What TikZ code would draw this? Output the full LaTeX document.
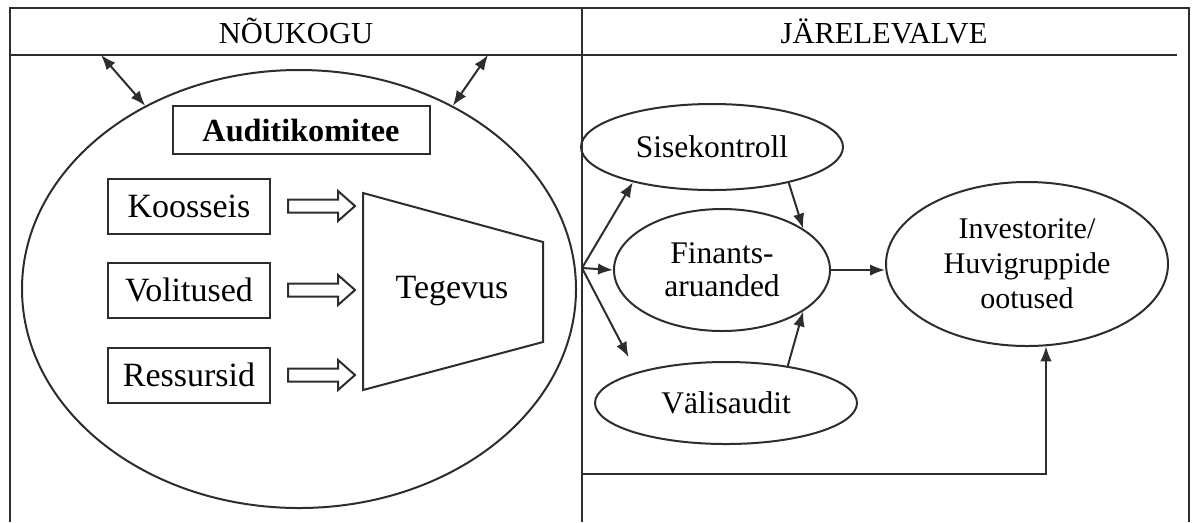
\documentclass[tikz,border=0pt]{standalone}
\usepackage{fontspec}
\setmainfont{Liberation Serif}
\usetikzlibrary{arrows.meta,shapes.geometric,calc}
\definecolor{ink}{RGB}{45,45,45}
\tikzset{
  >={Latex[length=6pt,width=4.6pt]},
  line/.style={draw=ink,line width=0.8pt},
  frame/.style={draw=ink,line width=0.9pt},
  head/.style={font=\fontsize{12.2}{14}\selectfont},
  box/.style={line,rectangle,inner sep=0pt,minimum width=64.8pt,minimum height=22pt,
    font=\fontsize{13.6}{15}\selectfont},
  title box/.style={line,rectangle,inner sep=0pt,minimum width=102.8pt,minimum height=19.2pt,
    font=\fontsize{12.9}{14}\selectfont\bfseries},
  oval/.style={line,ellipse,inner sep=0pt,align=center,font=\fontsize{12.6}{13.2}\selectfont},
  flow/.style={->,line},
  % hollow block arrow
  pics/fatarrow/.style={code={
    \draw[line] (0,-6.5) -- (50,-6.5) -- (50,-15) -- (67,0) -- (50,15) -- (50,6.5) -- (0,6.5) -- cycle;
  }},
}

\begin{document}
\begin{tikzpicture}[x=0.4pt,y=-0.4pt]
  \useasboundingbox (0,0) rectangle (1192,522);
  % frame
  \draw[frame] (10,522) -- (10,8) -- (1189,8) -- (1189,522);
  \draw[frame] (582,8) -- (582,522);
  \draw[frame] (10,55) -- (1177,55);
  \node[head] (nou) at (296,31) {NÕUKOGU};
  \node[head] (jar) at (884,31) {JÄRELEVALVE};

  % left: committee
  \node[line,ellipse,inner sep=0pt,minimum width=221.6pt,minimum height=175.2pt] (komitee) at (299,289) {};
  \node[title box] (audit) at (301,130) {Auditikomitee};
  \node[box] (koos) at (189,206) {Koosseis};
  \node[box] (vol) at (189,290) {Volitused};
  \node[box] (res) at (189,375) {Ressursid};
  \foreach \b in {koos,vol,res}
    \pic at ($(\b.east)+(17,0)$) {fatarrow};
  \draw[line] (363,193) -- (543,242) -- (543,342) -- (363,390) -- cycle;
  \node[font=\fontsize{13.6}{15}\selectfont] (teg) at (452,291) {Tegevus};
  \coordinate (nl) at (101,55);
  \coordinate (nr) at (488,55);
  \draw[<->,line] (nl) -- (komitee.130.5);
  \draw[<->,line] (nr) -- (komitee.50.4);

  % right: oversight
  \node[oval,minimum width=104.8pt,minimum height=34.4pt] (sise) at (712,147) {Sisekontroll};
  \node[oval,minimum width=86.4pt,minimum height=48.8pt] (fin) at (722,270) {Finants-\\aruanded};
  \node[oval,minimum width=104.8pt,minimum height=32.8pt] (valis) at (726,403) {Välisaudit};
  \node[oval,font=\fontsize{12}{14}\selectfont,minimum width=112.8pt,minimum height=65.6pt] (inv) at (1027,264)
    {Investorite/\\Huvigruppide\\ootused};
  \coordinate (fork) at (582,268);
  \coordinate (bot) at (582,474);
  \draw[flow] (fork) -- (sise.204);
  \draw[flow] (fork) -- (fin.west);
  \draw[flow,shorten >=6.8pt] (fork) -- (valis.161);
  \draw[flow] (sise.335) -- (fin.27);
  \draw[flow] (valis.31) -- (fin.333);
  \draw[flow] (fin.east) -- (fin.east -| inv.west);
  \draw[flow] (bot) -| (inv.-77);
\end{tikzpicture}
\end{document}
